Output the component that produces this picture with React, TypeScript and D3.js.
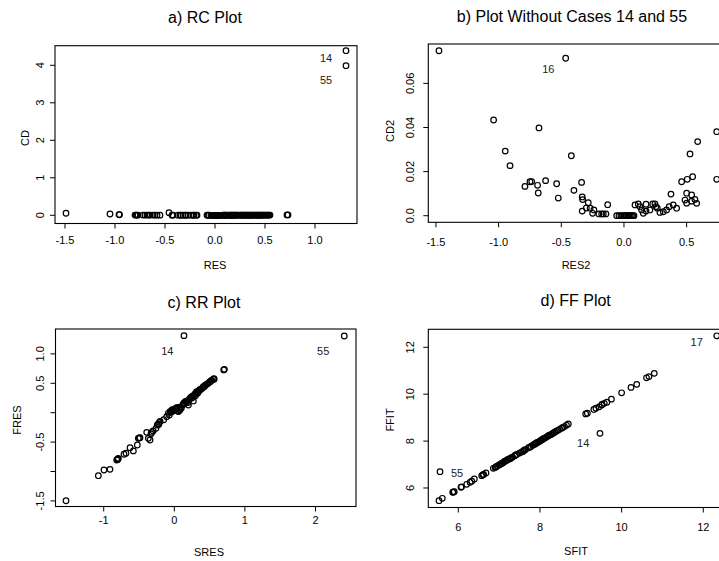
import React from "react";
import * as d3 from "d3";

// ---- data ----
// a) RC Plot: [RES, CD]
const rcPoints: [number, number][] = [
  [-1.49, 0.055], [-1.05, 0.035], [-0.96, 0.02], [-0.955, 0.015], [-0.8, 0.006], [-0.79, 0.006], [-0.78, 0.006],
  [-0.77, 0.005], [-0.72, 0.005], [-0.7, 0.005], [-0.68, 0.005], [-0.66, 0.005], [-0.65, 0.005], [-0.62, 0.005],
  [-0.6, 0.005], [-0.58, 0.004], [-0.55, 0.004], [-0.46, 0.07], [-0.43, 0.004], [-0.42, 0.003],
  [-0.37, 0.003], [-0.35, 0.003], [-0.34, 0.003], [-0.32, 0.003], [-0.3, 0.003], [-0.29, 0.003], [-0.27, 0.002], [-0.24, 0.002],
  [-0.22, 0.002], [-0.21, 0.002], [-0.19, 0.002], [-0.18, 0.002], [-0.08, 0.001], [-0.07, 0.001], [-0.06, 0.001], [-0.04, 0.0],
  [-0.03, 0.0], [-0.02, 0.0], [-0.01, 0.0], [0.0, 0.0], [0.005, 0.0], [0.01, 0.0], [0.015, 0.0], [0.02, 0.0], [0.025, 0.0],
  [0.03, 0.0], [0.035, 0.0], [0.04, 0.0], [0.045, 0.0],
  [0.05, 0.0], [0.06, 0.0], [0.08, 0.001], [0.09, 0.001], [0.1, 0.001], [0.11, 0.001], [0.12, 0.001], [0.14, 0.001], [0.15, 0.001],
  [0.16, 0.001], [0.17, 0.001], [0.18, 0.001], [0.19, 0.002], [0.2, 0.002], [0.21, 0.002], [0.22, 0.002], [0.23, 0.002], [0.25, 0.002],
  [0.26, 0.002], [0.27, 0.002], [0.28, 0.002], [0.29, 0.003], [0.3, 0.003], [0.31, 0.003], [0.32, 0.003], [0.33, 0.003],
  [0.34, 0.003], [0.35, 0.003], [0.36, 0.003], [0.37, 0.003], [0.38, 0.003], [0.39, 0.004], [0.4, 0.004], [0.41, 0.004],
  [0.42, 0.004], [0.43, 0.004], [0.44, 0.004],
  [0.45, 0.004], [0.46, 0.004], [0.47, 0.004], [0.48, 0.005], [0.49, 0.005], [0.5, 0.005], [0.51, 0.005], [0.52, 0.005],
  [0.53, 0.005], [0.54, 0.006], [0.55, 0.006], [0.72, 0.01], [0.73, 0.01], [1.31, 4.39], [1.31, 3.99],
];
const rcLabels: [string, number, number][] = [["14", 1.11, 4.19], ["55", 1.11, 3.61]];

// b) Plot Without Cases 14 and 55: [RES2, CD2]
const noCasePoints: [number, number][] = [
  [-1.476, 0.0748], [-1.04, 0.0434], [-0.947, 0.0293], [-0.909, 0.0227], [-0.79, 0.0133],
  [-0.75, 0.0154], [-0.736, 0.0155], [-0.689, 0.0138], [-0.684, 0.0103], [-0.678, 0.0398],
  [-0.625, 0.0159], [-0.537, 0.0145], [-0.524, 0.008], [-0.465, 0.0714], [-0.42, 0.0272],
  [-0.399, 0.0115], [-0.338, 0.0151], [-0.333, 0.0085], [-0.33, 0.0073], [-0.333, 0.0021],
  [-0.3, 0.0035], [-0.285, 0.0059], [-0.27, 0.0034], [-0.25, 0.0011], [-0.24, 0.0026],
  [-0.2, 0.0008], [-0.178, 0.0008], [-0.165, 0.0008], [-0.144, 0.0008], [-0.13, 0.005],
  [-0.058, 0.0], [-0.04, 0.0], [-0.025, 0.0], [-0.01, 0.0], [0.0, 0.0], [0.01, 0.0], [0.02, 0.0],
  [0.03, 0.0], [0.04, 0.0], [0.05, 0.0], [0.06, 0.0], [0.07, 0.0], [0.08, 0.0],
  [0.088, 0.0049], [0.114, 0.0053], [0.128, 0.0041], [0.141, 0.0026], [0.154, 0.0011],
  [0.176, 0.0052], [0.176, 0.0021], [0.207, 0.0026], [0.229, 0.0053], [0.247, 0.0053],
  [0.255, 0.0041], [0.266, 0.0034], [0.287, 0.0015], [0.314, 0.0018], [0.34, 0.0026],
  [0.361, 0.0041], [0.375, 0.0098], [0.393, 0.0049], [0.42, 0.0034], [0.46, 0.0154],
  [0.487, 0.0071], [0.5, 0.0102], [0.5, 0.0057], [0.505, 0.0165], [0.527, 0.028],
  [0.54, 0.0094], [0.54, 0.0066], [0.548, 0.0177], [0.566, 0.0074], [0.58, 0.0056],
  [0.588, 0.0336], [0.74, 0.0381], [0.74, 0.0165],
];
const noCaseLabels: [string, number, number][] = [["16", -0.604, 0.0664]];

// c) RR Plot: [SRES, FRES]
const rrPoints: [number, number][] = [
  [-1.534, -1.497], [-1.076, -1.071], [-0.996, -0.974], [-0.911, -0.963], [-0.816, -0.804],
  [-0.8, -0.79], [-0.8, -0.79], [-0.793, -0.776], [-0.712, -0.707], [-0.684, -0.69], [-0.627, -0.595],
  [-0.58, -0.65], [-0.524, -0.549], [-0.51, -0.436], [-0.495, -0.43], [-0.486, -0.425],
  [-0.391, -0.334], [-0.368, -0.436], [-0.344, -0.464], [-0.33, -0.36], [-0.32, -0.334],
  [-0.3, -0.31], [-0.259, -0.266], [-0.241, -0.209], [-0.225, -0.19], [-0.22, -0.2], [-0.212, -0.164],
  [-0.2, -0.15], [-0.15, -0.12], [-0.108, -0.068], [-0.085, -0.01], [-0.07, -0.04], [-0.061, 0.017],
  [-0.05, 0.02], [-0.04, 0.01], [-0.03, 0.05], [-0.02, 0.03], [-0.014, 0.045], [0.0, 0.04], [0.01, 0.07],
  [0.02, 0.06], [0.034, 0.075], [0.04, 0.09],
  [0.05, 0.03], [0.06, 0.02], [0.07, 0.06], [0.081, 0.046], [0.09, 0.1], [0.1, 0.08], [0.12, 0.13],
  [0.128, 0.148], [0.14, 0.17],
  [0.15, 0.16], [0.16, 0.19], [0.175, 0.187], [0.18, 0.2], [0.19, 0.17], [0.2, 0.13], [0.21, 0.22],
  [0.222, 0.245], [0.24, 0.27], [0.25, 0.25], [0.26, 0.28],
  [0.27, 0.2], [0.28, 0.3], [0.293, 0.318], [0.3, 0.29], [0.31, 0.34], [0.317, 0.357], [0.33, 0.33],
  [0.34, 0.36], [0.35, 0.37], [0.36, 0.39],
  [0.38, 0.4], [0.4, 0.42], [0.411, 0.442], [0.42, 0.44], [0.43, 0.45], [0.44, 0.47], [0.458, 0.483],
  [0.47, 0.49], [0.48, 0.5], [0.5, 0.52], [0.506, 0.527],
  [0.52, 0.54], [0.53, 0.55], [0.552, 0.568], [0.56, 0.58], [0.565, 0.57], [0.7, 0.728], [0.71, 0.738],
  [0.137, 1.31], [2.408, 1.304],
];
const rrLabels: [string, number, number][] = [["14", -0.099, 1.049], ["55", 2.11, 1.049]];

// d) FF Plot: [SFIT, FFIT]
const ffPoints: [number, number][] = [
  [5.527, 5.458], [5.608, 5.56], [5.863, 5.817], [5.88, 5.83], [5.9, 5.84], [6.066, 6.03], [6.08, 6.05],
  [6.206, 6.158], [6.287, 6.243], [6.33, 6.29], [6.392, 6.384], [6.573, 6.525], [6.6, 6.56], [6.62, 6.58],
  [6.678, 6.64], [6.857, 6.84], [6.9, 6.87], [6.92, 6.9], [6.95, 6.93], [7.0, 6.98], [7.02, 7.0], [7.05, 7.03],
  [7.07, 7.06], [7.1, 7.08], [7.13, 7.13], [7.15, 7.15], [7.18, 7.17], [7.2, 7.2], [7.22, 7.22], [7.25, 7.24],
  [7.28, 7.26], [7.3, 7.29], [7.33, 7.32],
  [7.38, 7.37], [7.4, 7.4], [7.43, 7.43], [7.5, 7.49], [7.55, 7.53], [7.58, 7.56], [7.6, 7.58], [7.62, 7.62],
  [7.65, 7.64], [7.72, 7.72], [7.75, 7.74],
  [7.78, 7.77], [7.82, 7.82], [7.86, 7.86], [7.88, 7.88], [7.9, 7.9], [7.92, 7.93], [7.95, 7.95],
  [7.98, 7.98], [8.0, 8.0],
  [8.03, 8.04], [8.05, 8.06], [8.08, 8.09], [8.1, 8.12], [8.13, 8.14], [8.16, 8.17], [8.2, 8.22],
  [8.23, 8.25], [8.27, 8.28], [8.3, 8.31], [8.33, 8.35],
  [8.36, 8.38], [8.4, 8.42], [8.44, 8.46], [8.48, 8.5], [8.53, 8.55], [8.56, 8.58], [8.6, 8.62],
  [8.65, 8.68], [8.694, 8.729], [9.12, 9.16],
  [9.16, 9.19], [9.32, 9.35], [9.37, 9.4], [9.45, 9.46], [9.512, 9.54], [9.52, 9.56], [9.576, 9.61],
  [9.64, 9.66], [9.75, 9.79], [10.0, 10.06], [10.23, 10.29], [10.37, 10.42], [10.61, 10.7],
  [10.67, 10.75], [10.8, 10.89], [9.47, 8.33], [12.33, 12.49], [5.552, 6.695],
];
const ffLabels: [string, number, number][] = [["17", 11.84, 12.24], ["14", 9.06, 7.91], ["55", 5.97, 6.65]];

// tick values and labels
const rcXTicks = [-1.5, -1.0, -0.5, 0.0, 0.5, 1.0];
const rcXTickLabels = ["-1.5", "-1.0", "-0.5", "0.0", "0.5", "1.0"];
const rcYTicks = [0, 1, 2, 3, 4];
const rcYTickLabels = ["0", "1", "2", "3", "4"];
const ncXTicks = [-1.5, -1.0, -0.5, 0.0, 0.5];
const ncXTickLabels = ["-1.5", "-1.0", "-0.5", "0.0", "0.5"];
const ncYTicks = [0, 0.02, 0.04, 0.06];
const ncYTickLabels = ["0.0", "0.02", "0.04", "0.06"];
const rrXTicks = [-1, 0, 1, 2];
const rrXTickLabels = ["-1", "0", "1", "2"];
const rrYTicks = [-1.5, -1.0, -0.5, 0.0, 0.5, 1.0];
const rrYTickLabels = ["-1.5", "", "-0.5", "", "0.5", "1.0"];
const ffXTicks = [6, 8, 10, 12];
const ffXTickLabels = ["6", "8", "10", "12"];
const ffYTicks = [6, 8, 10, 12];
const ffYTickLabels = ["6", "8", "10", "12"];

type PanelCfg = {
  title: string; xlab: string; ylab: string;
  box: { l: number; r: number; t: number; b: number };
  xDomain: [number, number]; yDomain: [number, number];
  xTicks: number[]; xTickLabels: string[]; yTicks: number[]; yTickLabels: string[];
  points: [number, number][]; labels: [string, number, number][];
  titleX: number; titleY: number; xTickY: number; xlabY: number; xlabX: number;
  yTickX: number; ylabX: number; ylabY: number;
};

const panels: PanelCfg[] = [
  {
    title: "a) RC Plot", xlab: "RES", ylab: "CD",
    box: { l: 55, r: 357, t: 45.7, b: 223.5 },
    xDomain: [-1.6, 1.42], yDomain: [-0.219, 4.523],
    xTicks: rcXTicks, xTickLabels: rcXTickLabels, yTicks: rcYTicks, yTickLabels: rcYTickLabels,
    points: rcPoints, labels: rcLabels,
    titleX: 205, titleY: 17.7, xTickY: 240, xlabY: 265, xlabX: 215, yTickX: 39.5, ylabX: 25, ylabY: 138,
  },
  {
    title: "b) Plot Without Cases 14 and 55", xlab: "RES2", ylab: "CD2",
    box: { l: 428.3, r: 725, t: 44, b: 222.3 },
    xDomain: [-1.561, 0.806], yDomain: [-0.00299, 0.07787],
    xTicks: ncXTicks, xTickLabels: ncXTickLabels, yTicks: ncYTicks, yTickLabels: ncYTickLabels,
    points: noCasePoints, labels: noCaseLabels,
    titleX: 572, titleY: 16.7, xTickY: 242.3, xlabY: 265, xlabX: 576, yTickX: 409.7, ylabX: 389.7, ylabY: 131,
  },
  {
    title: "c) RR Plot", xlab: "SRES", ylab: "FRES",
    box: { l: 55.5, r: 356, t: 329, b: 506.5 },
    xDomain: [-1.683, 2.574], yDomain: [-1.595, 1.423],
    xTicks: rrXTicks, xTickLabels: rrXTickLabels, yTicks: rrYTicks, yTickLabels: rrYTickLabels,
    points: rrPoints, labels: rrLabels,
    titleX: 204, titleY: 302.3, xTickY: 520, xlabY: 551.7, xlabX: 209, yTickX: 40, ylabX: 17, ylabY: 420,
  },
  {
    title: "d) FF Plot", xlab: "SFIT", ylab: "FFIT",
    box: { l: 428.3, r: 725, t: 329.3, b: 507.5 },
    xDomain: [5.265, 12.532], yDomain: [5.168, 12.768],
    xTicks: ffXTicks, xTickLabels: ffXTickLabels, yTicks: ffYTicks, yTickLabels: ffYTickLabels,
    points: ffPoints, labels: ffLabels,
    titleX: 575.7, titleY: 300.5, xTickY: 527.3, xlabY: 550.7, xlabX: 576, yTickX: 409.5, ylabX: 390.3, ylabY: 420,
  },
];

const FONT = "'Liberation Sans', Arial, Helvetica, sans-serif";

function Panel({ cfg }: { cfg: PanelCfg }) {
  const { box } = cfg;
  const x = d3.scaleLinear().domain(cfg.xDomain).range([box.l, box.r]);
  const y = d3.scaleLinear().domain(cfg.yDomain).range([box.b, box.t]);
  const tick = 5;
  return (
    <g>
      <text x={cfg.titleX} y={cfg.titleY} textAnchor="middle" dominantBaseline="central"
        fontSize={16} fontFamily={FONT} fill="#000">{cfg.title}</text>
      <rect x={box.l} y={box.t} width={box.r - box.l} height={box.b - box.t}
        fill="none" stroke="#000" strokeWidth={1.1} />
      {cfg.xTicks.map((t, i) => (
        <g key={"xt" + i}>
          <line x1={x(t)} x2={x(t)} y1={box.b} y2={box.b + tick} stroke="#000" strokeWidth={1} />
          <text x={x(t)} y={cfg.xTickY} textAnchor="middle" dominantBaseline="central"
            fontSize={11} fontFamily={FONT} fill="#000">{cfg.xTickLabels[i]}</text>
        </g>
      ))}
      {cfg.yTicks.map((t, i) => (
        <g key={"yt" + i}>
          <line x1={box.l - tick} x2={box.l} y1={y(t)} y2={y(t)} stroke="#000" strokeWidth={1} />
          {cfg.yTickLabels[i] ? (
            <text transform={`translate(${cfg.yTickX},${y(t)}) rotate(-90)`} textAnchor="middle"
              dominantBaseline="central" fontSize={11} fontFamily={FONT} fill="#000">
              {cfg.yTickLabels[i]}
            </text>
          ) : null}
        </g>
      ))}
      <text x={cfg.xlabX} y={cfg.xlabY} textAnchor="middle" dominantBaseline="central"
        fontSize={11} fontFamily={FONT} fill="#000">{cfg.xlab}</text>
      <text transform={`translate(${cfg.ylabX},${cfg.ylabY}) rotate(-90)`} textAnchor="middle"
        dominantBaseline="central" fontSize={11} fontFamily={FONT} fill="#000">{cfg.ylab}</text>
      {cfg.points.map((p, i) => (
        <circle key={"p" + i} cx={x(p[0])} cy={y(p[1])} r={2.8} fill="none" stroke="#000" strokeWidth={1.2} />
      ))}
      {cfg.labels.map((l, i) => (
        <text key={"l" + i} x={x(l[1])} y={y(l[2])} textAnchor="middle" dominantBaseline="central"
          fontSize={11} fontFamily={FONT} fill="#222">{l[0]}</text>
      ))}
    </g>
  );
}

export default function App() {
  return (
    <svg width={719} height={561} viewBox="0 0 719 561"
      style={{ position: "absolute", left: 0, top: 0, background: "#fff", display: "block" }}>
      <rect x={0} y={0} width={719} height={561} fill="#fff" />
      {panels.map((p, i) => <Panel key={i} cfg={p} />)}
    </svg>
  );
}
